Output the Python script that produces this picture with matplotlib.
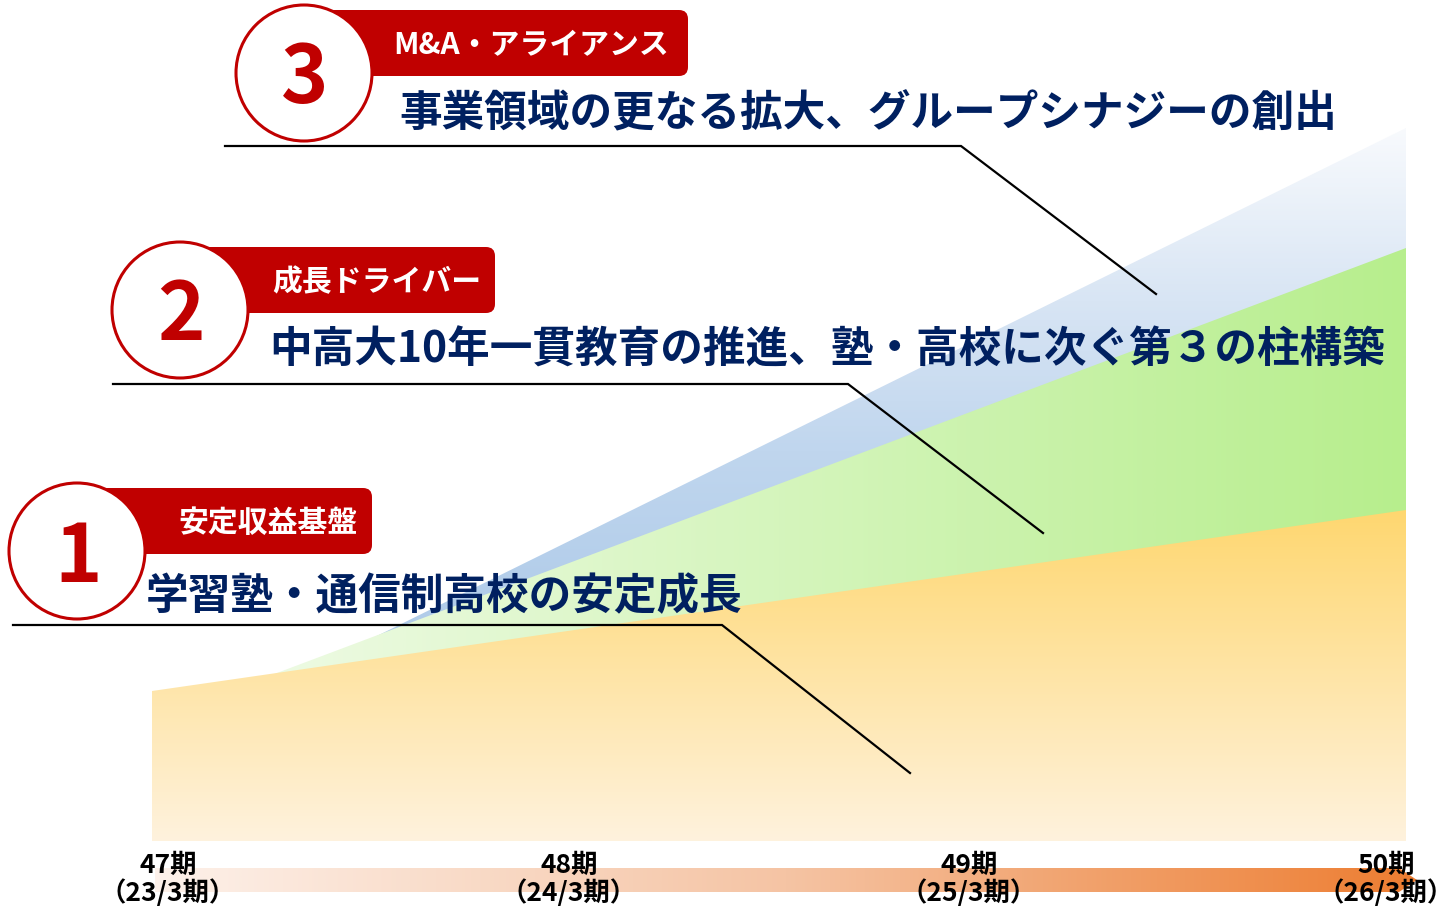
import numpy as np
import matplotlib
matplotlib.use("Agg")
import matplotlib.pyplot as plt
from matplotlib.colors import LinearSegmentedColormap
from matplotlib.patches import Circle, FancyBboxPatch, Polygon

plt.rcParams['font.family'] = ['Noto Sans CJK JP', 'DejaVu Sans']

# ---- data -------------------------------------------------------------
periods = [0, 3]                       # 47期 -> 50期
base_vals = [150, 331]                 # 安定収益基盤
growth_vals = [121, 593]               # 成長ドライバー
alliance_vals = [94, 713]              # M&A・アライアンス

period_labels = ["47期\n（23/3期）", "48期\n（24/3期）", "49期\n（25/3期）", "50期\n（26/3期）"]
period_label_x = [168, 569, 969, 1386]

stage_numbers = ["3", "2", "1"]
stage_tags = ["M&A・アライアンス", "成長ドライバー", "安定収益基盤"]
stage_titles = ["事業領域の更なる拡大、グループシナジーの創出",
                "中高大10年一貫教育の推進、塾・高校に次ぐ第３の柱構築",
                "学習塾・通信制高校の安定成長"]

RED = "#C00000"
NAVY = "#002060"

W, H = 1454, 911
fig = plt.figure(figsize=(W / 100, H / 100), dpi=100)
fig.patch.set_facecolor("white")

# ---- growth areas -----------------------------------------------------
ax = fig.add_axes([152 / W, (H - 841) / H, 1254 / W, 800 / H])
ax.set_xlim(0, 3)
ax.set_ylim(0, 800)
ax.axis("off")


def gradient_fill(x, y, stops, vertical, zorder):
    coll = ax.fill_between(x, 0, y, facecolor="none", edgecolor="none", zorder=zorder)
    cmap = LinearSegmentedColormap.from_list("g", stops)
    t = np.linspace(0, 1, 512)
    arr = t[:, None] if vertical else t[None, :]
    im = ax.imshow(arr, cmap=cmap, extent=[0, 3, 0, max(y)], origin="lower",
                   aspect="auto", interpolation="bilinear", zorder=zorder, vmin=0, vmax=1)
    im.set_clip_path(coll.get_paths()[0], ax.transData)
    return im


top = max(alliance_vals)
gradient_fill(periods, alliance_vals,
              [(0.0, "#A9C8E8"), (241 / top, "#B2CDEA"), (391 / top, "#C0D6EE"),
               (541 / top, "#D8E5F4"), (1.0, "#F8FAFD")], True, 1)
gradient_fill(periods, growth_vals,
              [(0.0, "#F3FCEC"), (1.0, "#B7EE8D")], False, 2)
gradient_fill(periods, base_vals,
              [(0.0, "#FEF2DD"), (1.0, "#FFD770")], True, 3)

# ---- overlay in pixel space -------------------------------------------
ov = fig.add_axes([0, 0, 1, 1])
ov.set_xlim(0, W)
ov.set_ylim(H, 0)
ov.axis("off")
ov.patch.set_alpha(0)

# period arrow with horizontal gradient
arrow = Polygon([(155, 868), (1399, 868), (1417, 880), (1399, 892), (155, 892)],
                closed=True, facecolor="none", edgecolor="none")
ov.add_patch(arrow)
acmap = LinearSegmentedColormap.from_list("a", ["#FDF1EA", "#F5C4A4", "#ED7D31"])
aim = ov.imshow(np.linspace(0, 1, 512)[None, :], cmap=acmap, extent=[155, 1417, 892, 868],
                aspect="auto", interpolation="bilinear", zorder=1)
aim.set_clip_path(arrow)

for lab, xp in zip(period_labels, period_label_x):
    l1, l2 = lab.split("\n")
    ov.text(xp, 865, l1, ha="center", va="center", fontsize=19, fontweight="bold",
            color="black", zorder=5)
    ov.text(xp, 893, l2, ha="center", va="center", fontsize=19, fontweight="bold",
            color="black", zorder=5)

# leader lines: horizontal rule then diagonal into the area
leaders = [
    [(225, 146), (961, 146), (1156, 294)],
    [(113, 384), (848, 384), (1043, 533)],
    [(13, 625), (722, 625), (910, 773)],
]
for pts in leaders:
    xs, ys = zip(*pts)
    ov.plot(xs, ys, color="black", lw=1.6, solid_joinstyle="miter", zorder=4)

# stage badges
circles = [(304, 73), (180, 310), (77, 551)]
tabs = [(10, 76, 688), (247, 313, 495), (488, 554, 372)]
tag_x = [393, 272, 178]
title_pos = [(399, 113), (269, 350), (146, 596)]

for (cx, cy), (t0, t1, tr), num, tag, tx, title, (px, py) in zip(
        circles, tabs, stage_numbers, stage_tags, tag_x, stage_titles, title_pos):
    ov.add_patch(FancyBboxPatch((cx, t0), tr - cx, t1 - t0,
                                boxstyle="round,pad=0,rounding_size=9",
                                facecolor=RED, edgecolor="none", zorder=6))
    ov.add_patch(Circle((cx, cy), 68, facecolor="white", edgecolor=RED, lw=2.2, zorder=7))
    ov.text(cx + 1, cy + 7, num, ha="center", va="center", fontsize=58,
            fontweight="bold", color=RED, zorder=8)
    ov.text(tx, (t0 + t1) / 2 + 2, tag, ha="left", va="center", fontsize=21.5,
            fontweight="bold", color="white", zorder=8)
    ov.text(px, py, title, ha="left", va="center", fontsize=30.7,
            fontweight="bold", color=NAVY, zorder=8)

fig.savefig("out.png", dpi=100, facecolor="white")
